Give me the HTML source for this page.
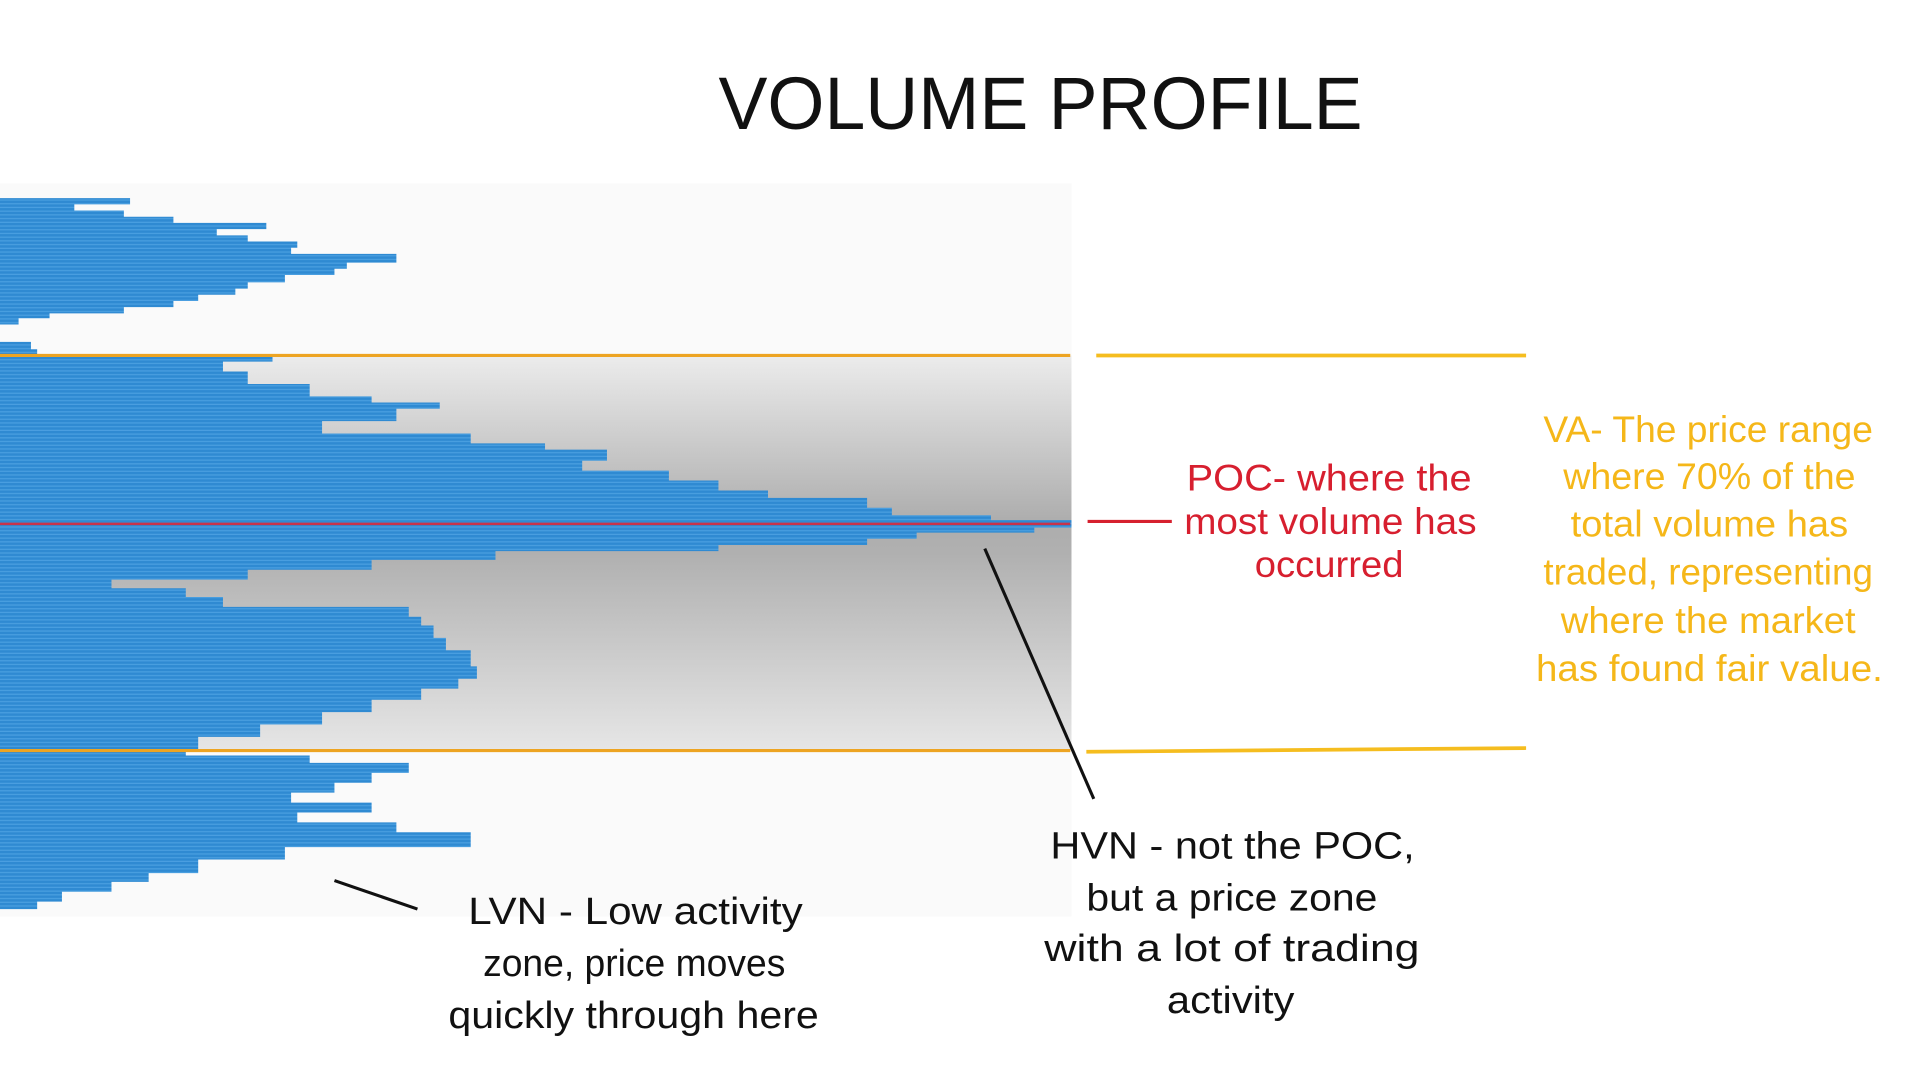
<!DOCTYPE html>
<html><head><meta charset="utf-8"><style>
html,body{margin:0;padding:0;background:#fff;width:1920px;height:1080px;overflow:hidden}
svg{display:block}
text{font-family:"Liberation Sans",sans-serif}
</style></head><body>
<svg width="1920" height="1080" viewBox="0 0 1550 872" preserveAspectRatio="none" xmlns="http://www.w3.org/2000/svg">
<defs>
<linearGradient id="va" x1="0" y1="0" x2="0" y2="1">
<stop offset="0" stop-color="#ececec"/>
<stop offset="0.42" stop-color="#adadad"/>
<stop offset="0.5" stop-color="#b0b0b0"/>
<stop offset="1" stop-color="#e6e6e6"/>
</linearGradient>
<pattern id="st" width="10" height="3" patternUnits="userSpaceOnUse">
<rect width="10" height="3" fill="#2f8ad2"/>
<rect y="2" width="10" height="1" fill="#4a9fe0"/>
</pattern>
</defs>
<rect width="1550" height="872" fill="#fff"/>
<text x="580" y="104" font-size="60" textLength="520" lengthAdjust="spacingAndGlyphs" fill="#111">VOLUME PROFILE</text>
<rect x="0" y="148" width="865" height="592" fill="#fafafa"/>
<rect x="0" y="287" width="865" height="319" fill="url(#va)"/>
<polygon fill="url(#st)" points="0,160 105,160 105,165 60,165 60,170 100,170 100,175 140,175 140,180 215,180 215,185 175,185 175,190 200,190 200,195 240,195 240,200 235,200 235,205 320,205 320,212 280,212 280,217 270,217 270,222 230,222 230,228 200,228 200,233 190,233 190,238 160,238 160,243 140,243 140,248 100,248 100,253 40,253 40,257 15,257 15,262 0,262 0,276 25,276 25,282 30,282 30,288 220,288 220,292 180,292 180,300 200,300 200,310 250,310 250,320 300,320 300,325 355,325 355,330 320,330 320,340 260,340 260,350 380,350 380,358 440,358 440,363 490,363 490,372 470,372 470,380 540,380 540,388 580,388 580,396 620,396 620,402 700,402 700,410 720,410 720,416 800,416 800,420 865,420 865,426 835,426 835,430 740,430 740,435 700,435 700,440 580,440 580,445 400,445 400,452 300,452 300,460 200,460 200,468 90,468 90,475 150,475 150,482 180,482 180,490 330,490 330,498 340,498 340,505 350,505 350,515 360,515 360,525 380,525 380,538 385,538 385,548 370,548 370,556 340,556 340,565 300,565 300,575 260,575 260,585 210,585 210,595 160,595 160,606 150,606 150,610 250,610 250,616 330,616 330,624 300,624 300,632 270,632 270,640 235,640 235,648 300,648 300,656 240,656 240,664 320,664 320,672 380,672 380,684 230,684 230,694 160,694 160,705 120,705 120,712 90,712 90,720 50,720 50,728 30,728 30,734 0,734"/>
<line x1="0" y1="287" x2="864" y2="287" stroke="#eda422" stroke-width="2.5"/>
<line x1="0" y1="606" x2="864" y2="606" stroke="#eda422" stroke-width="2.5"/>
<line x1="0" y1="423" x2="864" y2="423" stroke="#c7334a" stroke-width="2"/>
<line x1="885" y1="287" x2="1232" y2="287" stroke="#f5bd1f" stroke-width="3"/>
<line x1="877" y1="607" x2="1232" y2="604" stroke="#f5bd1f" stroke-width="3"/>
<line x1="878" y1="421" x2="946" y2="421" stroke="#d6202f" stroke-width="2.5"/>
<line x1="795" y1="443" x2="883" y2="645" stroke="#111" stroke-width="2.5"/>
<line x1="270" y1="711" x2="337" y2="734" stroke="#111" stroke-width="2.5"/>
<g fill="#d71f2f" font-size="30">
<text x="958" y="396" textLength="230" lengthAdjust="spacingAndGlyphs">POC- where the</text>
<text x="956" y="431" textLength="236" lengthAdjust="spacingAndGlyphs">most volume has</text>
<text x="1013" y="466" textLength="120" lengthAdjust="spacingAndGlyphs">occurred</text>
</g>
<g fill="#f5b719" font-size="30">
<text x="1246" y="357" textLength="266" lengthAdjust="spacingAndGlyphs">VA- The price range</text>
<text x="1262" y="395" textLength="236" lengthAdjust="spacingAndGlyphs">where 70% of the</text>
<text x="1268" y="433" textLength="224" lengthAdjust="spacingAndGlyphs">total volume has</text>
<text x="1246" y="472" textLength="266" lengthAdjust="spacingAndGlyphs">traded, representing</text>
<text x="1260" y="511" textLength="238" lengthAdjust="spacingAndGlyphs">where the market</text>
<text x="1240" y="550" textLength="280" lengthAdjust="spacingAndGlyphs">has found fair value.</text>
</g>
<g fill="#111" font-size="31">
<text x="848" y="693" textLength="294" lengthAdjust="spacingAndGlyphs">HVN - not the POC,</text>
<text x="877" y="735" textLength="235" lengthAdjust="spacingAndGlyphs">but a price zone</text>
<text x="843" y="776" textLength="303" lengthAdjust="spacingAndGlyphs">with a lot of trading</text>
<text x="942" y="818" textLength="103" lengthAdjust="spacingAndGlyphs">activity</text>
<text x="378" y="746" textLength="270" lengthAdjust="spacingAndGlyphs">LVN - Low activity</text>
<text x="390" y="788" textLength="244" lengthAdjust="spacingAndGlyphs">zone, price moves</text>
<text x="362" y="830" textLength="299" lengthAdjust="spacingAndGlyphs">quickly through here</text>
</g>
</svg>
</body></html>
